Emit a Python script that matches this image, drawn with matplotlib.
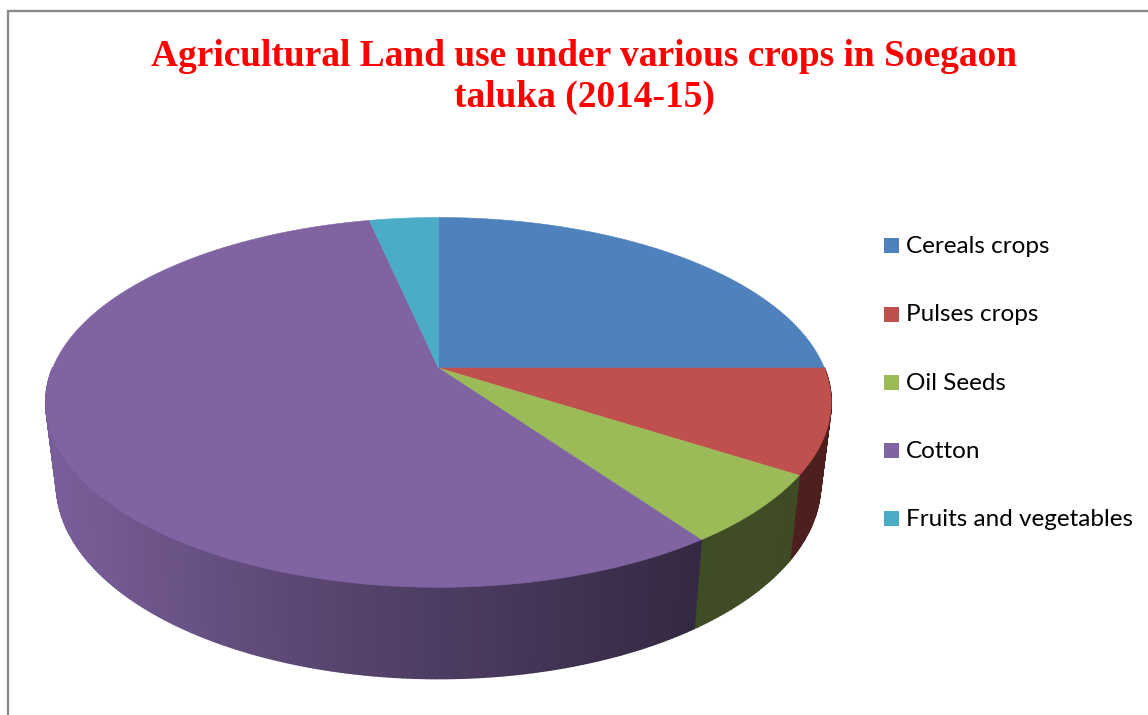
import numpy as np
import matplotlib
matplotlib.use("Agg")
import matplotlib.pyplot as plt
from matplotlib.collections import PolyCollection
from matplotlib.patches import Polygon, Rectangle

# share of land per crop (percent)
crops = ["Cereals crops", "Pulses crops", "Oil Seeds", "Cotton", "Fruits and vegetables"]
shares = [25.0, 9.1, 6.1, 56.4, 3.4]
colors = ["#4f81bd", "#c0504d", "#9bbb59", "#8064a2", "#4bacc6"]

title = "Agricultural Land use under various crops in Soegaon\ntaluka (2014-15)"

# perspective of the pie, in pixels
cx, cy = 438.5, 368
a, b, k = 385.8, 178.5, 0.186


def rim(theta):
    # theta runs clockwise from 12 o'clock
    u, v = np.sin(theta), np.cos(theta)
    w = 1 + k * v
    return cx + a * u / w, cy - b * v / w


def drop(x, y):
    # same rim, moved to the bottom of the pie
    return cx + 0.973 * (x - cx), 1.054 * y + 59.5


def wall_shade(x):
    return np.interp(x, [45, 300, 550, 695, 830], [0.95, 0.71, 0.52, 0.41, 0.40])


fig = plt.figure(figsize=(11.48, 7.15), dpi=100)
ax = fig.add_axes([0, 0, 1, 1])
ax.set_xlim(0, 1148)
ax.set_ylim(715, 0)
ax.axis("off")

# chart frame, only left and top show
ax.plot([8, 8, 1148], [715, 10.5, 10.5], color="#8a8a8a", lw=1.7, solid_joinstyle="miter")

edges = np.cumsum([0] + shares) / sum(shares) * 2 * np.pi

# side walls first, the top covers the rest; back half is never seen
for i, base in enumerate(colors):
    t = np.linspace(edges[i], edges[i + 1], max(int(shares[i] * 6), 4))
    x, y = rim(t)
    x2, y2 = drop(x, y)
    quads = []
    cols = []
    rgb = np.array(matplotlib.colors.to_rgb(base))
    for j in range(len(t) - 1):
        if np.cos(t[j]) > 0 and np.cos(t[j + 1]) > 0:
            continue
        quads.append([(x[j], y[j]), (x[j + 1], y[j + 1]), (x2[j + 1], y2[j + 1]), (x2[j], y2[j])])
        cols.append(tuple(rgb * wall_shade((x[j] + x[j + 1]) / 2)))
    ax.add_collection(PolyCollection(quads, facecolors=cols, edgecolors=cols, linewidths=1.2))

# top of the pie
for i, base in enumerate(colors):
    t = np.linspace(edges[i], edges[i + 1], max(int(shares[i] * 12), 4))
    x, y = rim(t)
    pts = [(cx, cy)] + list(zip(x, y))
    ax.add_patch(Polygon(pts, closed=True, facecolor=base, edgecolor=base, lw=0.4))

ax.text(584, 77, title, ha="center", va="center", color="#ff0000", fontsize=26.9,
        fontweight="bold", family="Liberation Serif", linespacing=1.24)

# legend
for i, crop in enumerate(crops):
    y = 245.8 + i * 68.2
    ax.add_patch(Rectangle((884, y - 7.5), 15, 15, facecolor=colors[i], edgecolor="none"))
    ax.text(906, y + 0.8, crop, ha="left", va="center", color="#000000", fontsize=17.5, family="Lato")

fig.savefig("out.png", dpi=100)
